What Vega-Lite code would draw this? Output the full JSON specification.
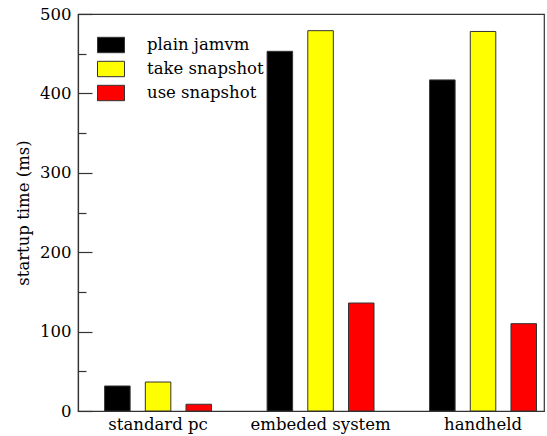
{
  "$schema": "https://vega.github.io/schema/vega-lite/v6.json",
  "width": 466,
  "height": 397,
  "autosize": {"type": "none"},
  "padding": {"left": 78, "top": 14, "right": 3, "bottom": 25},
  "background": "white",
  "config": {
    "font": "DejaVu Serif",
    "view": {"stroke": "#333", "strokeWidth": 1.2},
    "axis": {"domainColor": "#333", "tickColor": "#333", "labelColor": "black", "titleColor": "black", "grid": false},
    "legend": {}
  },
  "data": {
    "values": [
      {"system": "standard pc", "mode": "plain jamvm", "time": 31.5},
      {"system": "standard pc", "mode": "take snapshot", "time": 36.5},
      {"system": "standard pc", "mode": "use snapshot", "time": 8.5},
      {"system": "embeded system", "mode": "plain jamvm", "time": 453},
      {"system": "embeded system", "mode": "take snapshot", "time": 479},
      {"system": "embeded system", "mode": "use snapshot", "time": 136},
      {"system": "handheld", "mode": "plain jamvm", "time": 417},
      {"system": "handheld", "mode": "take snapshot", "time": 478},
      {"system": "handheld", "mode": "use snapshot", "time": 110}
    ]
  },
  "layer": [
    {
      "mark": {"type": "bar", "stroke": "#333", "strokeWidth": 1},
      "encoding": {
        "x": {
          "field": "system", "type": "nominal",
          "sort": ["standard pc", "embeded system", "handheld"],
          "scale": {"paddingInner": 0.342, "paddingOuter": 0.105, "align": 0.78},
          "axis": {"title": null, "labelAngle": 0, "ticks": false, "labelFontSize": 16.5, "labelPadding": 5, "domainWidth": 1.2}
        },
        "xOffset": {
          "field": "mode", "type": "nominal",
          "sort": ["plain jamvm", "take snapshot", "use snapshot"],
          "scale": {"paddingInner": 0.373, "paddingOuter": 0}
        },
        "y": {
          "field": "time", "type": "quantitative",
          "scale": {"domain": [0, 500], "nice": false},
          "axis": {
            "title": "startup time (ms)", "titleFontSize": 16.5, "titleFontWeight": "normal", "titlePadding": 8,
            "values": [0, 100, 200, 300, 400, 500], "tickSize": -14, "labelFontSize": 16.5, "labelPadding": 21,
            "domainWidth": 1.2, "tickWidth": 1.2
          }
        },
        "color": {
          "field": "mode", "type": "nominal",
          "sort": ["plain jamvm", "take snapshot", "use snapshot"],
          "scale": {"domain": ["plain jamvm", "take snapshot", "use snapshot"], "range": ["#000000", "#ffff00", "#ff0000"]},
          "legend": {
            "title": null, "orient": "none", "legendX": 19, "legendY": 17,
            "symbolType": "M-1,-0.57H1V0.57H-1Z", "symbolSize": 729,
            "symbolStrokeColor": "#333", "symbolStrokeWidth": 1, "symbolOpacity": 1,
            "labelFontSize": 16.5, "labelOffset": 22, "rowPadding": 0, "labelColor": "black"
          }
        }
      }
    },
    {
      "mark": {"type": "bar", "opacity": 0},
      "encoding": {
        "x": {"field": "system", "type": "nominal", "sort": ["standard pc", "embeded system", "handheld"]},
        "xOffset": {"field": "mode", "type": "nominal", "sort": ["plain jamvm", "take snapshot", "use snapshot"]},
        "y": {
          "field": "time", "type": "quantitative",
          "axis": {"orient": "left", "title": null, "labels": false, "domain": false, "values": [50, 150, 250, 350, 450], "tickSize": -8, "tickWidth": 1.2}
        }
      }
    }
  ],
  "resolve": {"axis": {"y": "independent"}}
}
